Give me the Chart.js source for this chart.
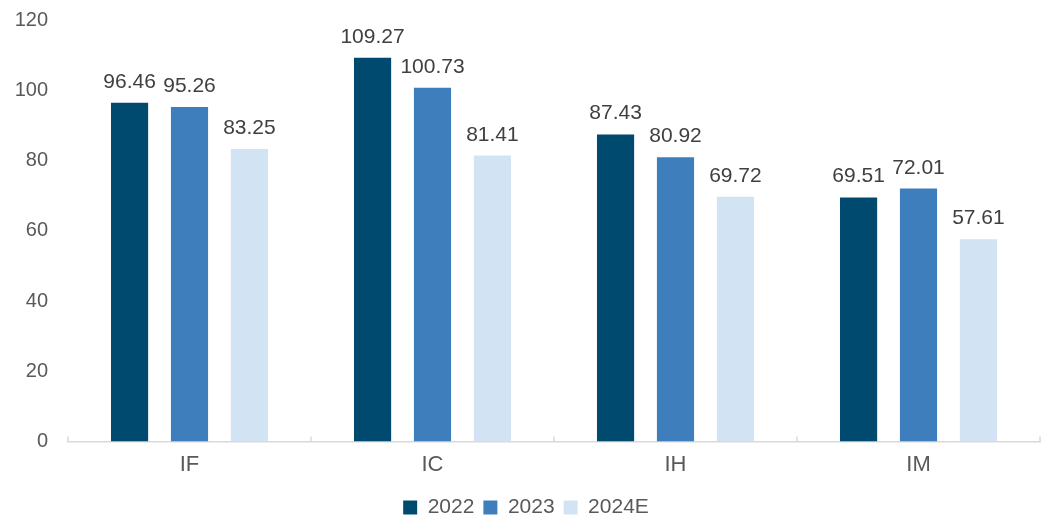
<!DOCTYPE html>
<html><head><meta charset="utf-8">
<script src="https://cdn.jsdelivr.net/npm/chart.js@4/dist/chart.umd.min.js"></script>
<style>html,body{margin:0;padding:0;background:#fff}#w{width:1050px;height:528px}</style>
</head><body><div id="w"><canvas id="c"></canvas></div>
<script>
const categories = ["IF", "IC", "IH", "IM"];
const seriesNames = ["2022", "2023", "2024E"];
const values2022 = [96.46, 109.27, 87.43, 69.51];
const values2023 = [95.26, 100.73, 80.92, 72.01];
const values2024E = [83.25, 81.41, 69.72, 57.61];
const yTicks = [0, 20, 40, 60, 80, 100, 120];
const colors = ["#004a6f", "#3f7ebd", "#d2e3f3"];
const FONT = "'Liberation Sans', Arial, sans-serif";

const labelPlugin = {
  id: 'vlabels',
  afterDatasetsDraw(chart) {
    const ctx = chart.ctx;
    ctx.save();
    ctx.font = "21px " + FONT;
    ctx.fillStyle = "#404040";
    ctx.textAlign = "center";
    ctx.textBaseline = "alphabetic";
    chart.data.datasets.forEach((ds, i) => {
      chart.getDatasetMeta(i).data.forEach((bar, j) => {
        ctx.fillText(ds.data[j].toFixed(2), bar.x, bar.y - 15);
      });
    });
    ctx.restore();
  }
};

const tickMarkPlugin = {
  id: 'catTicks',
  afterDraw(chart) {
    const x = chart.scales.x, ctx = chart.ctx;
    const bottom = chart.chartArea.bottom;
    ctx.save();
    ctx.strokeStyle = "#d9d9d9";
    ctx.lineWidth = 1.5;
    for (let i = 0; i <= categories.length; i++) {
      const px = x.getPixelForValue(i - 0.5);
      ctx.beginPath();
      ctx.moveTo(px, bottom);
      ctx.lineTo(px, bottom - 5);
      ctx.stroke();
    }
    ctx.restore();
  }
};

new Chart(document.getElementById('c'), {
  type: 'bar',
  data: {
    labels: categories,
    datasets: [
      { label: seriesNames[0], data: values2022, backgroundColor: colors[0] },
      { label: seriesNames[1], data: values2023, backgroundColor: colors[1] },
      { label: seriesNames[2], data: values2024E, backgroundColor: colors[2] }
    ]
  },
  options: {
    responsive: true,
    maintainAspectRatio: false,
    animation: false,
    layout: { padding: { top: 20, right: 10, left: 12, bottom: 0 } },
    datasets: { bar: { categoryPercentage: 0.74, barPercentage: 0.62 } },
    plugins: {
      legend: {
        position: 'bottom',
        labels: { font: { family: FONT, size: 21 }, color: "#595959", boxWidth: 14, boxHeight: 14, padding: 9 }
      },
      tooltip: { enabled: false }
    },
    scales: {
      x: {
        grid: { display: false, drawTicks: false },
        border: { display: true, color: "#d9d9d9", width: 1.5 },
        ticks: { font: { family: FONT, size: 22 }, color: "#595959", padding: 10 }
      },
      y: {
        min: 0, max: 120,
        afterBuildTicks(scale) { scale.ticks = yTicks.map(v => ({ value: v })); },
        afterFit(scale) { scale.width = 56; scale.paddingTop = 0; scale.paddingBottom = 0; },
        grid: { display: false, drawTicks: false },
        border: { display: false },
        ticks: { font: { family: FONT, size: 20 }, color: "#595959", padding: 20 }
      }
    }
  },
  plugins: [labelPlugin, tickMarkPlugin]
});
</script></body></html>
